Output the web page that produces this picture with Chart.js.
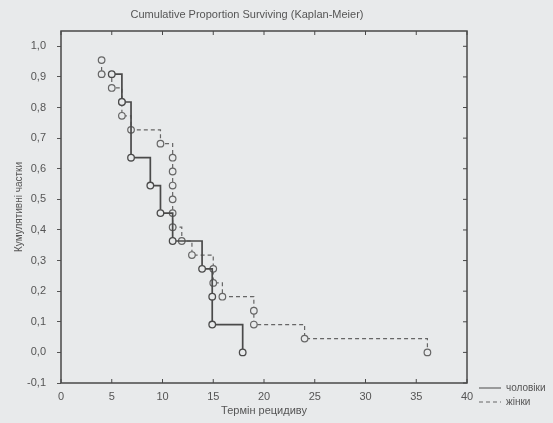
<!DOCTYPE html>
<html>
<head>
<meta charset="utf-8">
<script src="https://cdn.jsdelivr.net/npm/chart.js@4"></script>
<style>
  body { margin: 0; background: #e8eaeb; }
  #wrap { width: 553px; height: 423px; }
</style>
</head>
<body>
<div id="wrap"><canvas id="kmChart" width="553" height="423"></canvas></div>
<script>
const menTimes = [5, 6, 6.9, 8.8, 9.8, 11, 13.9, 14.9, 14.9, 17.9];
const menSurv = [0.909, 0.818, 0.636, 0.545, 0.455, 0.364, 0.273, 0.182, 0.091, 0];
const womenTimes = [4, 4, 5, 6, 6, 6.9, 9.8, 11, 11, 11, 11, 11, 11, 11.9, 12.9, 15, 15, 15.9, 19, 19, 24, 36.1];
const womenSurv = [0.955, 0.909, 0.864, 0.818, 0.773, 0.727, 0.682, 0.636, 0.591, 0.545, 0.5, 0.455, 0.409, 0.364, 0.318, 0.273, 0.227, 0.182, 0.136, 0.091, 0.045, 0];
const xTicks = [0, 5, 10, 15, 20, 25, 30, 35, 40];
const yTicks = [-0.1, 0, 0.1, 0.2, 0.3, 0.4, 0.5, 0.6, 0.7, 0.8, 0.9, 1.0];

const FONT = "'Liberation Sans', Arial, sans-serif";
const INK = '#4a4a4a';
const BG = '#e8eaeb';

function toPoints(xs, ys) {
  return xs.map((x, i) => ({ x: x, y: ys[i] }));
}

// box round the plot, with small ticks inside on bottom, top and right
const frame = {
  id: 'frame',
  beforeDatasetsDraw(chart) {
    const { ctx, chartArea: a, scales } = chart;
    ctx.save();
    ctx.strokeStyle = '#484848';
    ctx.lineWidth = 1.5;
    ctx.strokeRect(a.left, a.top, a.right - a.left, a.bottom - a.top);
    ctx.lineWidth = 1;
    ctx.beginPath();
    xTicks.forEach(v => {
      const px = scales.x.getPixelForValue(v);
      ctx.moveTo(px, a.bottom); ctx.lineTo(px, a.bottom - 4);
      ctx.moveTo(px, a.top); ctx.lineTo(px, a.top + 4);
    });
    yTicks.forEach(v => {
      const py = scales.y.getPixelForValue(v);
      ctx.moveTo(a.right, py); ctx.lineTo(a.right - 4, py);
    });
    ctx.stroke();
    ctx.restore();
  }
};

// title on top and the little legend bottom right
const texts = {
  id: 'texts',
  afterDraw(chart) {
    const { ctx } = chart;
    ctx.save();
    ctx.fillStyle = '#555';
    ctx.font = '11px ' + FONT;
    ctx.textAlign = 'center';
    ctx.textBaseline = 'middle';
    ctx.fillText('Cumulative Proportion Surviving (Kaplan-Meier)', 247, 15);

    ctx.textAlign = 'left';
    ctx.font = '10px ' + FONT;
    chart.data.datasets.forEach((ds, i) => {
      const y = 388 + i * 14;
      ctx.strokeStyle = ds.borderColor;
      ctx.lineWidth = 1;
      ctx.setLineDash(ds.borderDash || []);
      ctx.beginPath();
      ctx.moveTo(479, y);
      ctx.lineTo(501, y);
      ctx.stroke();
      ctx.fillText(ds.label, 506, y);
    });
    ctx.restore();
  }
};

document.addEventListener("DOMContentLoaded", function () {
  const ctx = document.getElementById('kmChart').getContext('2d');

  new Chart(ctx, {
    type: 'scatter',
    data: {
      datasets: [{
        label: 'чоловіки',
        data: toPoints(menTimes, menSurv),
        showLine: true,
        stepped: true,
        borderColor: INK,
        borderWidth: 1.7,
        pointRadius: 3.3,
        pointBorderWidth: 1.3,
        pointBorderColor: INK,
        pointBackgroundColor: BG
      }, {
        label: 'жінки',
        data: toPoints(womenTimes, womenSurv),
        showLine: true,
        stepped: true,
        borderColor: '#666',
        borderWidth: 1.2,
        borderDash: [4, 3],
        pointRadius: 3.3,
        pointBorderWidth: 1.2,
        pointBorderColor: '#666',
        pointBackgroundColor: BG
      }]
    },
    options: {
      responsive: false,
      animation: false,
      layout: { padding: { top: 31, right: 86, left: 0, bottom: 0 } },
      plugins: {
        legend: { display: false },
        title: { display: false },
        tooltip: { enabled: false }
      },
      scales: {
        x: {
          type: 'linear',
          min: 0,
          max: 40,
          afterBuildTicks: (scale) => { scale.ticks = xTicks.map(v => ({ value: v })); },
          afterFit: (scale) => { scale.height = 40; },
          grid: { display: false, drawTicks: false },
          border: { display: false },
          ticks: { color: '#555', padding: 7, font: { family: FONT, size: 11 } },
          title: {
            display: true,
            text: 'Термін рецидиву',
            color: '#555',
            font: { family: FONT, size: 11 },
            padding: { top: 0, bottom: 5 }
          }
        },
        y: {
          min: -0.1,
          max: 1.05,
          afterBuildTicks: (scale) => { scale.ticks = yTicks.map(v => ({ value: v })); },
          afterFit: (scale) => { scale.width = 61; },
          grid: { drawOnChartArea: false, drawTicks: true, tickLength: 4, color: '#555' },
          border: { display: false },
          ticks: {
            color: '#555',
            padding: 11,
            font: { family: FONT, size: 11 },
            callback: (v) => Number(v).toFixed(1).replace('.', ',')
          },
          title: {
            display: true,
            text: 'Кумулятивні частки',
            color: '#555',
            font: { family: FONT, size: 10 },
            padding: { top: 13, bottom: 0 }
          }
        }
      }
    },
    plugins: [frame, texts]
  });
});
</script>
</body>
</html>
